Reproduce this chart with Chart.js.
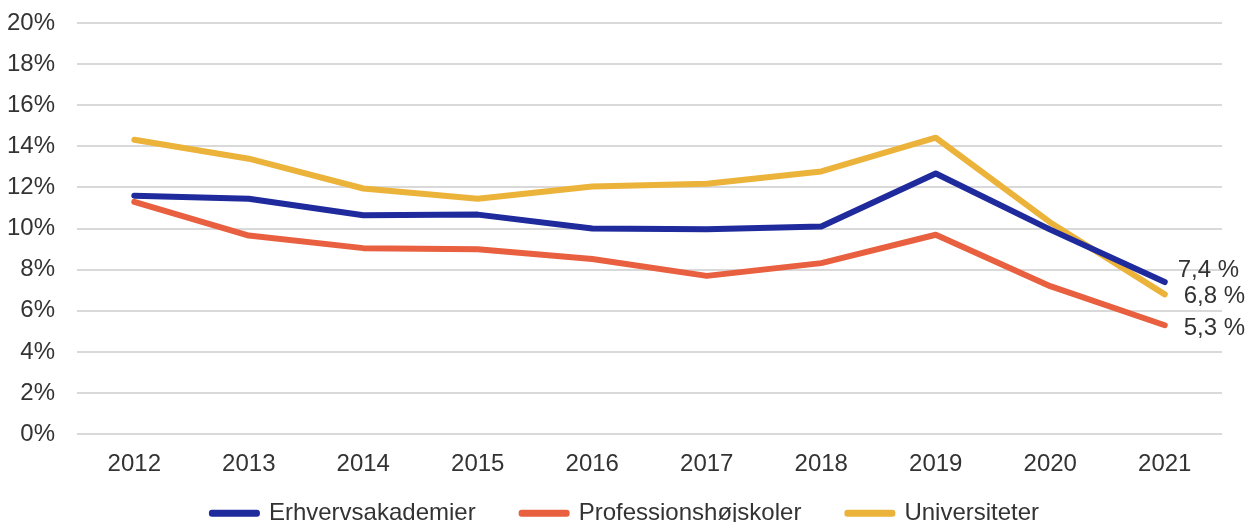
<!DOCTYPE html>
<html>
<head>
<meta charset="utf-8">
<script src="https://cdn.jsdelivr.net/npm/chart.js@4"></script>
<style>
  html, body { margin: 0; padding: 0; background: #fff; }
  #wrap { width: 1247px; height: 522px; }
</style>
</head>
<body>
<div id="wrap"><canvas id="grafik" width="1247" height="522"></canvas></div>
<script>
// data aflaest fra figuren
const aar = ["2012", "2013", "2014", "2015", "2016", "2017", "2018", "2019", "2020", "2021"];
const erhverv = [11.6, 11.45, 10.65, 10.68, 10.0, 9.97, 10.1, 12.68, 9.95, 7.4];
const profession = [11.3, 9.66, 9.05, 9.0, 8.52, 7.7, 8.32, 9.7, 7.2, 5.3];
const universitet = [14.32, 13.4, 11.95, 11.45, 12.05, 12.18, 12.78, 14.42, 10.3, 6.8];
const slutLabels = ["7,4 %", "6,8 %", "5,3 %"];

const farver = ["#1f2a9c", "#e8603f", "#ebb33a"];
const skrift = "'Liberation Sans', Arial, sans-serif";

// tekst ved sidste punkt
const slutTekst = {
  id: "slutTekst",
  afterDatasetsDraw(chart) {
    const ctx = chart.ctx;
    const y = chart.scales.y;
    const x = chart.scales.x;
    const sidst = aar.length - 1;
    const px = x.getPixelForValue(sidst);
    const vals = [erhverv[sidst], universitet[sidst], profession[sidst]];
    ctx.save();
    ctx.font = "24px " + skrift;
    ctx.fillStyle = "#333";
    ctx.textBaseline = "middle";
    ctx.textAlign = "left";
    const dx = [13, 19, 19];
    const dy = [-12, 2, 3];
    vals.forEach((v, i) => {
      ctx.fillText(slutLabels[i], px + dx[i], y.getPixelForValue(v) + dy[i]);
    });
    ctx.restore();
  }
};

// flyt legenden lidt op, tættere paa aarstallene
const flytLegende = {
  id: "flytLegende",
  afterLayout(chart) {
    const lg = chart.legend;
    const h = lg.bottom - lg.top;
    const w = lg.right - lg.left;
    lg.top = chart.scales.x.top + 21;
    lg.bottom = lg.top + h;
    lg.left += 11;
    lg.right = lg.left + w;
  }
};

let micanvas = document.getElementById("grafik").getContext("2d");
let chart = new Chart(micanvas, {
  type: "line",
  data: {
    labels: aar,
    datasets: [
      { label: "Erhvervsakademier", data: erhverv, borderColor: farver[0], backgroundColor: farver[0] },
      { label: "Professionshøjskoler", data: profession, borderColor: farver[1], backgroundColor: farver[1] },
      { label: "Universiteter", data: universitet, borderColor: farver[2], backgroundColor: farver[2] }
    ]
  },
  options: {
    responsive: false,
    animation: false,
    layout: { padding: { left: 7, right: 25, top: 23, bottom: -53 } },
    elements: {
      line: { borderWidth: 6, tension: 0, borderCapStyle: "round", borderJoinStyle: "round" },
      point: { radius: 0 }
    },
    scales: {
      x: {
        offset: true,
        grid: { display: false, drawTicks: false },
        border: { display: false },
        ticks: { color: "#333", font: { size: 24, family: skrift }, padding: 16 }
      },
      y: {
        min: 0, max: 20,
        grid: { color: "#d9d9d9", lineWidth: 2, drawTicks: true, tickLength: 22, tickColor: "rgba(0,0,0,0)" },
        border: { display: false },
        ticks: {
          stepSize: 2,
          padding: 0,
          color: "#333",
          font: { size: 24, family: skrift },
          callback: v => v + "%"
        }
      }
    },
    plugins: {
      legend: {
        position: "bottom",
        labels: {
          color: "#333",
          boxWidth: 45,
          boxHeight: 1,
          padding: 46,
          font: { size: 24, family: skrift }
        }
      },
      tooltip: { enabled: false }
    }
  },
  plugins: [slutTekst, flytLegende]
});
</script>
</body>
</html>
